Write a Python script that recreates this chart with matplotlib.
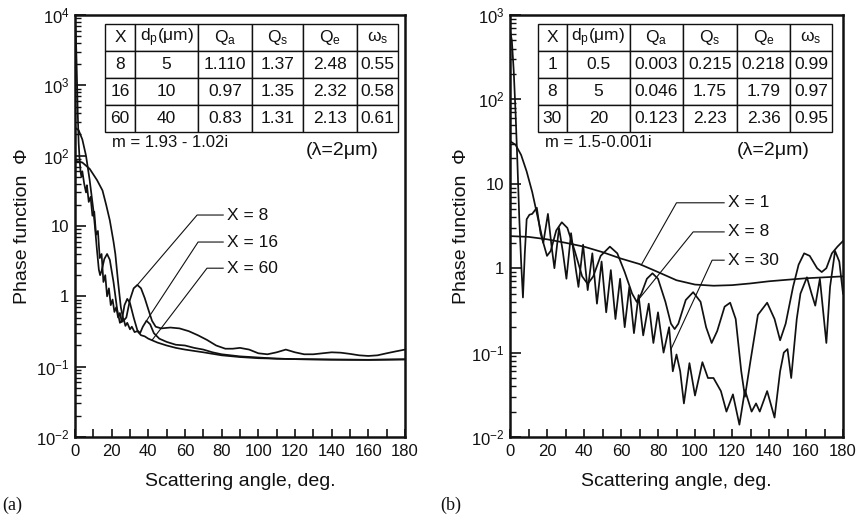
import numpy as np
import matplotlib
matplotlib.use("Agg")
import matplotlib.pyplot as plt

plt.rcParams['font.family'] = ['Liberation Sans', 'DejaVu Sans']
plt.rcParams['mathtext.fontset'] = 'custom'
plt.rcParams['mathtext.rm'] = 'Liberation Sans'
plt.rcParams['mathtext.it'] = 'Liberation Sans:italic'

# ---------------- data: panel (a), m = 1.93 - 1.02i ----------------
ang_a8 = [0, 4, 8, 12, 15, 17, 19, 21, 22, 23.5, 25, 26.5, 28, 30, 32, 34, 36, 38, 40, 42, 44, 47,
          52, 57, 62, 67, 72, 77, 82, 86, 90, 95, 100, 105, 110, 115, 120, 125, 130, 135, 140, 145,
          150, 155, 160, 165, 170, 175, 180]
phi_a8 = [85, 80, 65, 45, 32, 20, 12, 6, 4, 1.6, 0.7, 0.45, 0.5, 0.9, 1.3, 1.45, 1.3, 0.95, 0.65, 0.45,
          0.37, 0.35, 0.36, 0.35, 0.32, 0.28, 0.24, 0.2, 0.18, 0.18, 0.185, 0.175, 0.155, 0.15, 0.16,
          0.175, 0.16, 0.15, 0.15, 0.155, 0.16, 0.158, 0.152, 0.145, 0.142, 0.145, 0.155, 0.165, 0.175]

ang_a16 = [0, 2, 4, 6, 8, 10, 11, 12, 13, 13.7, 14.5, 16, 17.5, 19, 21, 23, 24.5, 25.5, 27, 28.5, 30,
           32, 34, 35.5, 37, 39, 41, 43, 46, 50, 55, 60, 65, 70, 75, 80, 90, 100, 110, 120, 130, 140,
           150, 160, 170, 180]
phi_a16 = [250, 230, 170, 100, 45, 17, 9, 4.5, 2.4, 2.0, 2.3, 3.4, 4.0, 3.3, 1.6, 0.65, 0.42, 0.45,
           0.75, 0.92, 0.8, 0.5, 0.33, 0.3, 0.37, 0.45, 0.4, 0.3, 0.25, 0.225, 0.205, 0.2, 0.185, 0.175,
           0.16, 0.15, 0.14, 0.135, 0.13, 0.128, 0.127, 0.126, 0.125, 0.125, 0.126, 0.127]

ang_a60 = [0, 0.5, 1, 1.5, 2, 2.5, 3, 3.5, 4, 5, 6, 6.5, 7.5, 8.5, 9.5, 10.5, 11.5, 12.5, 13.5, 14.5,
           15.5, 16.5, 17.5, 18.5, 19.5, 20.5, 21.5, 22.5, 23.5, 24.5, 25.5, 26.5, 27.5, 28.5, 30, 31,
           32.5, 34, 36, 38, 40, 45, 50, 55, 60, 70, 80, 90, 100, 110, 120, 130, 140, 150, 160, 170, 180]
phi_a60 = [8000, 5000, 1500, 400, 150, 90, 60, 50, 60, 40, 30, 38, 22, 26, 14, 16, 7.5, 8.5, 3.5, 4.0,
           1.6, 2.0, 1.0, 1.3, 0.75, 0.9, 0.6, 0.7, 0.5, 0.58, 0.43, 0.48, 0.38, 0.42, 0.34, 0.37, 0.31,
           0.32, 0.28, 0.27, 0.25, 0.22, 0.2, 0.185, 0.175, 0.16, 0.145, 0.137, 0.132, 0.13, 0.128,
           0.127, 0.126, 0.126, 0.125, 0.126, 0.127]

# ---------------- data: panel (b), m = 1.5 - 0.001i ----------------
ang_b1 = [0, 10, 20, 30, 40, 50, 60, 70, 80, 90, 100, 110, 120, 130, 140, 150, 160, 170, 180]
phi_b1 = [2.4, 2.35, 2.2, 2.0, 1.8, 1.55, 1.3, 1.12, 0.9, 0.72, 0.64, 0.62, 0.63, 0.66, 0.7, 0.73,
          0.76, 0.78, 0.8]

ang_b8 = [0, 3, 6, 9, 12, 15, 18, 20, 22, 25, 28, 31, 35, 39, 42, 45, 49, 54, 58, 62, 66, 68.5, 71,
          74, 77, 80, 84, 87, 89, 91, 95, 99, 103, 106, 109, 112, 116, 119, 122, 125, 127, 130, 134,
          139, 143, 146, 149, 153, 156, 159, 162, 166, 168.5, 171, 174, 177, 180]
phi_b8 = [32, 29, 22, 14, 8, 4, 2, 1.4, 1.6, 2.8, 3.5, 3.0, 1.6, 0.8, 0.65, 0.8, 1.4, 1.8, 1.5, 0.9,
          0.5, 0.4, 0.5, 0.75, 0.87, 0.75, 0.4, 0.22, 0.19, 0.22, 0.42, 0.52, 0.4, 0.2, 0.13, 0.18, 0.35,
          0.39, 0.25, 0.06, 0.03, 0.08, 0.28, 0.39, 0.25, 0.14, 0.22, 0.6, 1.1, 1.5, 1.4, 1.0, 0.9, 1.0,
          1.5, 1.8, 2.1]

ang_b30 = [0, 1, 2, 3, 4, 5, 6, 7, 8, 9, 10.5, 12, 14.5, 16.5, 18, 20.5, 22.5, 24, 26.5, 28.5, 30.5,
           33, 35.5, 37, 39.5, 42, 44.5, 47, 49.5, 52, 54.5, 57, 59.5, 62, 64.5, 67, 69.5, 72, 75,
           77.5, 80, 83, 86, 88, 90, 92, 94, 97, 100, 104, 107, 110, 114, 117, 120.5, 124, 127, 130.6,
           133, 135, 139, 143, 146, 148, 150, 152, 155, 157, 160.5, 163, 165, 167.5, 171, 173, 175.7,
           178, 180]
phi_b30 = [650, 500, 220, 70, 18, 4, 1.2, 0.45, 1.5, 3.8, 4.3, 4.4, 5.2, 2.6, 2.0, 4.4, 1.8, 1.0, 3.0,
           1.6, 0.75, 2.6, 1.0, 0.6, 1.9, 0.55, 1.5, 0.38, 1.2, 0.3, 0.95, 0.25, 0.75, 0.2, 0.6, 0.17,
           0.48, 0.16, 0.38, 0.13, 0.3, 0.1, 0.2, 0.06, 0.095, 0.06, 0.025, 0.075, 0.031, 0.077, 0.05,
           0.05, 0.035, 0.02, 0.032, 0.014, 0.036, 0.02, 0.025, 0.02, 0.035, 0.017, 0.06, 0.1, 0.11,
           0.05, 0.25, 0.5, 0.78, 0.5, 0.36, 0.75, 0.13, 0.6, 1.6, 1.2, 0.5]

# tables
tab_header = ['X', r'd$_\mathrm{p}$(μm)', r'Q$_\mathrm{a}$', r'Q$_\mathrm{s}$', r'Q$_\mathrm{e}$',
              r'ω$_\mathrm{s}$']
tab_a = [['8', '5', '1.110', '1.37', '2.48', '0.55'],
         ['16', '10', '0.97', '1.35', '2.32', '0.58'],
         ['60', '40', '0.83', '1.31', '2.13', '0.61']]
tab_b = [['1', '0.5', '0.003', '0.215', '0.218', '0.99'],
         ['8', '5', '0.046', '1.75', '1.79', '0.97'],
         ['30', '20', '0.123', '2.23', '2.36', '0.95']]

xticks = list(range(0, 181, 20))
yt_a = [1e-2, 1e-1, 1, 10, 1e2, 1e3, 1e4]
ytl_a = [r'$10^{-2}$', r'$10^{-1}$', '1', '10', r'$10^{2}$', r'$10^{3}$', r'$10^{4}$']
yt_b = [1e-2, 1e-1, 1, 10, 1e2, 1e3]
ytl_b = [r'$10^{-2}$', r'$10^{-1}$', '1', '10', r'$10^{2}$', r'$10^{3}$']

# ---------------- figure ----------------
W, H = 859, 522
fig = plt.figure(figsize=(W / 100, H / 100), dpi=100)
axA = fig.add_axes([75 / W, 1 - 437 / H, 330 / W, 422 / H])
axB = fig.add_axes([510 / W, 1 - 437 / H, 333 / W, 422 / H])

col = '#111111'


def style(ax, yt, ytl, ylim):
    ax.set_yscale('log')
    ax.set_xlim(0, 180)
    ax.set_ylim(*ylim)
    ax.set_xticks(xticks)
    ax.set_xticks(range(10, 180, 20), minor=True)
    ax.set_yticks(yt)
    ax.set_yticklabels(ytl)
    ax.tick_params(which='both', direction='in', top=False, right=False, labelsize=12, colors=col)
    ax.tick_params(axis='x', which='both', length=6, width=1.2, pad=5)
    ax.tick_params(axis='y', which='major', length=8, width=1.2, pad=4)
    ax.tick_params(axis='y', which='minor', length=4, width=1.0)
    for s in ax.spines.values():
        s.set_linewidth(1.8)
        s.set_color(col)
    ax.text(0.5, -0.105, 'Scattering angle, deg.', transform=ax.transAxes, ha='center', va='center',
            fontsize=14, color=col)


style(axA, yt_a, ytl_a, (1e-2, 1e4))
style(axB, yt_b, ytl_b, (1e-2, 1e3))
axA.text(-0.16, 0.5, 'Phase function  Φ', rotation=90, transform=axA.transAxes, ha='center',
         va='center', fontsize=14, color=col)
axB.text(-0.145, 0.5, 'Phase function  Φ', rotation=90, transform=axB.transAxes, ha='center',
         va='center', fontsize=14, color=col)

for a, p in [(ang_a8, phi_a8), (ang_a16, phi_a16), (ang_a60, phi_a60)]:
    axA.plot(a, p, color=col, lw=1.25)
for a, p in [(ang_b1, phi_b1), (ang_b8, phi_b8), (ang_b30, phi_b30)]:
    axB.plot(a, p, color=col, lw=1.25)


def make_table(ax, rows, x0, x1, widths):
    t = ax.table(cellText=rows, colLabels=tab_header, cellLoc='center',
                 colWidths=widths, bbox=[x0, 0.723, x1 - x0, 0.256], zorder=5)
    t.auto_set_font_size(False)
    t.set_fontsize(12.5)
    for c in t.get_celld().values():
        c.set_linewidth(1.0)
        c.set_edgecolor(col)
        c.get_text().set_color(col)
    return t


make_table(axA, tab_a, 0.091, 0.979, [30, 63, 54, 51, 54, 41])
make_table(axB, tab_b, 0.084, 0.967, [29, 63, 53, 54, 53, 42])

axA.text(0.112, 0.697, 'm = 1.93 - 1.02i', transform=axA.transAxes, ha='left', va='center',
         fontsize=12, color=col)
axA.text(0.809, 0.68, '(λ=2μm)', transform=axA.transAxes, ha='center', va='center',
         fontsize=14, color=col)
axB.text(0.105, 0.697, 'm = 1.5-0.001i', transform=axB.transAxes, ha='left', va='center',
         fontsize=12, color=col)
axB.text(0.79, 0.68, '(λ=2μm)', transform=axB.transAxes, ha='center', va='center',
         fontsize=14, color=col)


def leader(ax, label, tx, ty, hx, ang, phi, at):
    val = 10 ** np.interp(at, ang, np.log10(phi))
    px, py = ax.transAxes.inverted().transform(ax.transData.transform((at, val)))
    ax.plot([tx - 0.012, hx, px], [ty, ty, py], transform=ax.transAxes, color=col, lw=0.8)
    ax.text(tx, ty, label, transform=ax.transAxes, ha='left', va='center', fontsize=12.5, color=col)


leader(axA, 'X = 8', 0.461, 0.526, 0.37, ang_a8, phi_a8, 34)
leader(axA, 'X = 16', 0.461, 0.462, 0.373, ang_a16, phi_a16, 39)
leader(axA, 'X = 60', 0.461, 0.400, 0.40, ang_a60, phi_a60, 42)
leader(axB, 'X = 1', 0.655, 0.555, 0.50, ang_b1, phi_b1, 71)
leader(axB, 'X = 8', 0.655, 0.486, 0.55, ang_b8, phi_b8, 68.5)
leader(axB, 'X = 30', 0.655, 0.419, 0.607, ang_b30, phi_b30, 87)

fig.text(2 / W, 1 - 505 / H, '(a)', ha='left', va='center', fontsize=13,
         family=['Liberation Serif', 'DejaVu Serif'], color=col)
fig.text(440 / W, 1 - 505 / H, '(b)', ha='left', va='center', fontsize=13,
         family=['Liberation Serif', 'DejaVu Serif'], color=col)

fig.savefig('out.png', dpi=100, facecolor='white')
